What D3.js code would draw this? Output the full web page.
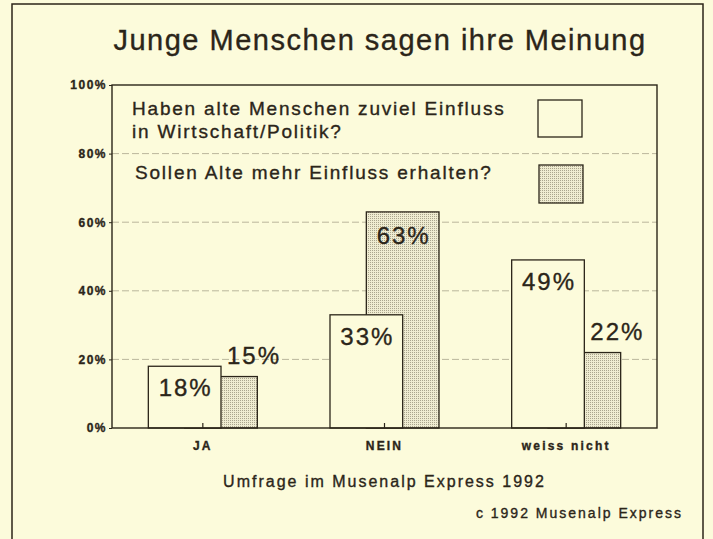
<!DOCTYPE html>
<html>
<head>
<meta charset="utf-8">
<script src="https://cdn.jsdelivr.net/npm/d3@7"></script>
<style>
  body { margin: 0; background: #fcfbdb; }
  text { font-family: "Liberation Sans", Arial, sans-serif; fill: #2b2519; stroke: #2b2519; stroke-width: 0.35px; }
</style>
</head>
<body>
<div id="chart"></div>
<script>
var width = 713;
var height = 539;

// data
var categories = ["JA", "NEIN", "weiss nicht"];
var zuvielEinfluss = [18, 33, 49];   // Haben alte Menschen zuviel Einfluss ...
var mehrEinfluss = [15, 63, 22];     // Sollen Alte mehr Einfluss erhalten?
var yTicks = [0, 20, 40, 60, 80, 100];
var legendLines = [["Haben alte Menschen zuviel Einfluss", "in Wirtschaft/Politik?"],
                   ["Sollen Alte mehr Einfluss erhalten?"]];

var ink = "#2b2519";
var bg = "#fcfbdb";

var plot = {left: 112, right: 657, top: 85, bottom: 428};

var svg = d3.select("#chart")
	.append("svg")
	.attr("width", width)
	.attr("height", height);

// stipple for the grey bars
var defs = svg.append("defs");
var pat = defs.append("pattern")
	.attr("id", "dots")
	.attr("width", 2)
	.attr("height", 2)
	.attr("patternUnits", "userSpaceOnUse");
pat.append("rect").attr("width", 2).attr("height", 2).attr("fill", "#efecd1");
pat.append("rect").attr("width", 1).attr("height", 1).attr("fill", "#aaa58d");

svg.append("rect")
	.attr("width", width).attr("height", height)
	.attr("fill", bg);

// outer frame
svg.append("rect")
	.attr("x", 12).attr("y", 4)
	.attr("width", 691).attr("height", 560)
	.attr("fill", "none")
	.attr("stroke", ink)
	.attr("stroke-width", 1.5);

svg.append("text")
	.attr("x", 380)
	.attr("y", 50)
	.attr("text-anchor", "middle")
	.style("font-size", "29px")
	.style("letter-spacing", "1.5px")
	.text("Junge Menschen sagen ihre Meinung");

var x = d3.scaleBand()
	.domain(categories)
	.range([plot.left, plot.right]);

var y = d3.scaleLinear()
	.domain([0, 100])
	.range([plot.bottom, plot.top]);

var bw = x.bandwidth() * 0.4;

// gridlines
svg.append("g")
	.selectAll("line")
	.data(yTicks.filter(d => d > 0 && d < 100))
	.enter()
	.append("line")
	.attr("x1", plot.left)
	.attr("x2", plot.right)
	.attr("y1", d => y(d))
	.attr("y2", d => y(d))
	.attr("stroke", "#aaa58c")
	.attr("stroke-width", 0.8)
	.attr("stroke-dasharray", "7,3");

// y axis labels
var yAxis = d3.axisLeft(y)
	.tickValues(yTicks)
	.tickSize(3)
	.tickFormat(d => d + "%");
var gy = svg.append("g")
	.attr("transform", "translate(" + plot.left + ",0)")
	.call(yAxis);
gy.select(".domain").remove();
gy.selectAll("line").attr("stroke", ink);
gy.selectAll("text")
	.attr("x", -5)
	.style("font-size", "12px")
	.style("font-weight", "bold")
	.style("letter-spacing", "1.5px")
	.attr("fill", ink);

// legend
var legendY = [[115, 138], [179]];
legendLines.forEach(function (lines, i) {
	lines.forEach(function (line, j) {
		svg.append("text")
			.attr("x", i == 0 ? 132 : 135)
			.attr("y", legendY[i][j])
			.style("font-size", "19px")
			.style("letter-spacing", "1.8px")
			.text(line);
	});
});
svg.append("rect")
	.attr("x", 538).attr("y", 100).attr("width", 44).attr("height", 37)
	.attr("fill", bg).attr("stroke", ink).attr("stroke-width", 1.3);
svg.append("rect")
	.attr("x", 539).attr("y", 165).attr("width", 44).attr("height", 38)
	.attr("fill", "url(#dots)").attr("stroke", ink).attr("stroke-width", 1.3);

var center = d => x(d) + x.bandwidth() / 2;

// grey bars behind, white bars in front
svg.append("g")
	.selectAll("rect")
	.data(categories)
	.enter()
	.append("rect")
	.attr("x", (d) => center(d) - x.bandwidth() * 0.1)
	.attr("y", (d, i) => y(mehrEinfluss[i]))
	.attr("width", bw)
	.attr("height", (d, i) => y(0) - y(mehrEinfluss[i]))
	.attr("fill", "url(#dots)")
	.attr("stroke", ink)
	.attr("stroke-width", 1.3);

svg.append("g")
	.selectAll("rect")
	.data(categories)
	.enter()
	.append("rect")
	.attr("x", (d) => center(d) - x.bandwidth() * 0.3)
	.attr("y", (d, i) => y(zuvielEinfluss[i]))
	.attr("width", bw)
	.attr("height", (d, i) => y(0) - y(zuvielEinfluss[i]))
	.attr("fill", bg)
	.attr("stroke", ink)
	.attr("stroke-width", 1.3);

// value labels
categories.forEach(function (c, i) {
	svg.append("text")
		.attr("x", center(c) - x.bandwidth() * 0.3 + bw / 2 + 1)
		.attr("y", y(zuvielEinfluss[i]) + 30)
		.attr("text-anchor", "middle")
		.style("font-size", "24px")
		.style("letter-spacing", "2px")
		.text(zuvielEinfluss[i] + "%");

	var g = mehrEinfluss[i];
	var inside = g > zuvielEinfluss[i];
	svg.append("text")
		.attr("x", inside ? center(c) - x.bandwidth() * 0.1 + bw / 2 + 1 : center(c) - x.bandwidth() * 0.3 + bw + 6)
		.attr("y", inside ? y(g) + 32 : y(g) - 13)
		.attr("text-anchor", inside ? "middle" : "start")
		.style("font-size", "24px")
		.style("letter-spacing", "2px")
		.text(g + "%");
});

// plot frame
svg.append("rect")
	.attr("x", plot.left).attr("y", plot.top)
	.attr("width", plot.right - plot.left)
	.attr("height", plot.bottom - plot.top)
	.attr("fill", "none")
	.attr("stroke", ink)
	.attr("stroke-width", 1.4);

// x axis
var xAxis = d3.axisBottom(x).tickSizeInner(-5).tickSizeOuter(0);
var gx = svg.append("g")
	.attr("transform", "translate(0," + plot.bottom + ")")
	.call(xAxis);
gx.select(".domain").remove();
gx.selectAll("line").attr("stroke", ink).attr("stroke-width", 1.2);
gx.selectAll("text")
	.attr("y", 22)
	.attr("dy", 0)
	.style("font-size", "12px")
	.style("font-weight", "bold")
	.style("letter-spacing", "2.2px")
	.attr("fill", ink);

svg.append("text")
	.attr("x", (plot.left + plot.right) / 2)
	.attr("y", 487)
	.attr("text-anchor", "middle")
	.style("font-size", "16px")
	.style("letter-spacing", "2px")
	.text("Umfrage im Musenalp Express 1992");

svg.append("text")
	.attr("x", 683)
	.attr("y", 518)
	.attr("text-anchor", "end")
	.style("font-size", "14px")
	.style("letter-spacing", "2px")
	.text("c 1992 Musenalp Express");
</script>
</body>
</html>
